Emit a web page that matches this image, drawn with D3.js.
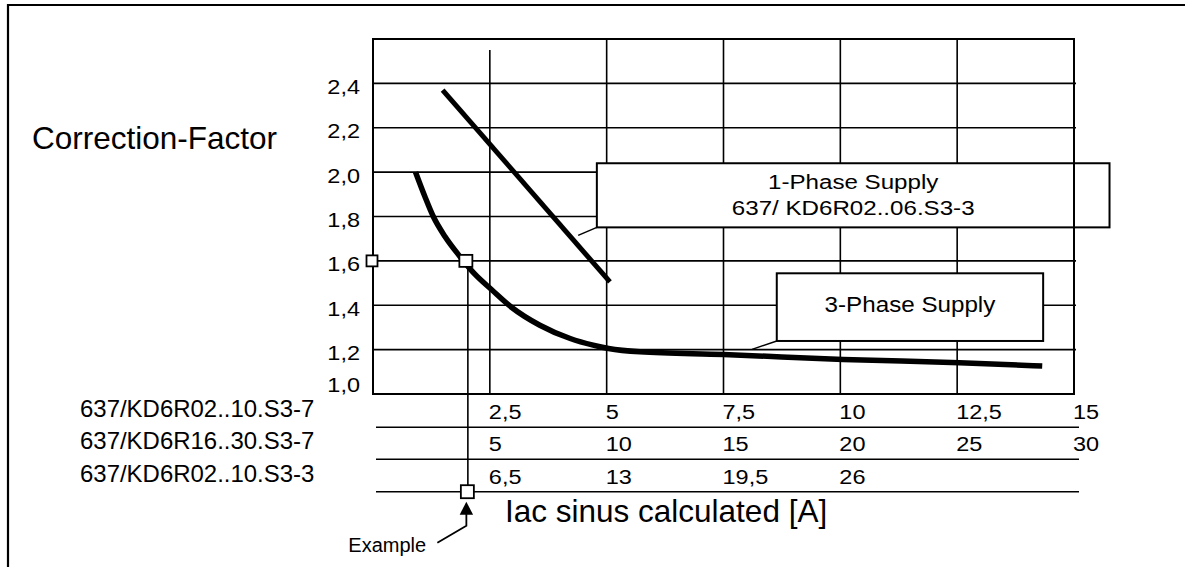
<!DOCTYPE html>
<html><head><meta charset="utf-8">
<script src="https://cdn.jsdelivr.net/npm/d3@7"></script>
<style>
html,body{margin:0;padding:0;background:#fff;}
svg{display:block;}
text{font-family:"Liberation Sans",Arial,Helvetica,sans-serif;fill:#000;}
</style>
</head><body>
<svg id="chart" width="1185" height="567"></svg>
<script>
// ---------------- data ----------------
const yTicks = [1.0, 1.2, 1.4, 1.6, 1.8, 2.0, 2.2, 2.4];
const yTickLabels = ["1,0", "1,2", "1,4", "1,6", "1,8", "2,0", "2,2", "2,4"];
const gridX = [2.5, 5, 7.5, 10, 12.5];

const rowNames = ["637/KD6R02..10.S3-7", "637/KD6R16..30.S3-7", "637/KD6R02..10.S3-3"];
const rowMax = [15, 30, 39];
const row1Ticks = [2.5, 5, 7.5, 10, 12.5, 15];
const row1Labels = ["2,5", "5", "7,5", "10", "12,5", "15"];
const row2Ticks = [5, 10, 15, 20, 25, 30];
const row2Labels = ["5", "10", "15", "20", "25", "30"];
const row3Ticks = [6.5, 13, 19.5, 26];
const row3Labels = ["6,5", "13", "19,5", "26"];

// x in units of the first scale row (637/KD6R02..10.S3-7), y = correction factor
const onePhase = [[1.49, 2.37], [5.07, 1.505]];
const threePhase = [
  [0.91, 2.00], [1.11, 1.89], [1.29, 1.80], [1.54, 1.71], [1.86, 1.62],
  [2.18, 1.54], [2.54, 1.47], [2.97, 1.39], [3.57, 1.31], [4.22, 1.25],
  [4.71, 1.22], [5.04, 1.205], [5.71, 1.19], [7.5, 1.178], [10.06, 1.156],
  [12.55, 1.141], [14.32, 1.126]
];
const exampleX = 2.03, exampleY = 1.6;

const legend1Lines = ["1-Phase Supply", "637/ KD6R02..06.S3-3"];
const legend2Lines = ["3-Phase Supply"];
const yTitle = "Correction-Factor";
const xTitle = "Iac sinus calculated [A]";
const exampleText = "Example";

// ---------------- layout ----------------
const svg = d3.select("#chart");
const x = d3.scaleLinear().domain([0, 15]).range([373, 1074]);
const y = d3.scaleLinear().domain([1, 2.6]).range([394, 39]);
const rowLineY = [427.3, 459.3, 491.7];
const rowScales = rowMax.map(m => d3.scaleLinear().domain([0, m]).range(x.range()));
const rowTicks = [row1Ticks, row2Ticks, row3Ticks];
const rowLabels = [row1Labels, row2Labels, row3Labels];

function label(sel, px, py, s, size, anchor, sx) {
  return sel.append("text")
    .attr("transform", `translate(${px},${py}) scale(${sx},1)`)
    .attr("text-anchor", anchor)
    .attr("font-size", size)
    .text(s);
}

// outer border (left + top)
svg.append("path").attr("d", "M8,567 L8,5 L1185,5")
  .attr("fill", "none").attr("stroke", "#000").attr("stroke-width", 2.2);

// horizontal grid
svg.append("g").selectAll("line").data(yTicks.filter(v => v > 1)).join("line")
  .attr("x1", x(0)).attr("x2", x(15) + 2)
  .attr("y1", d => y(d)).attr("y2", d => y(d))
  .attr("stroke", "#000").attr("stroke-width", 1.6);

// vertical grid
svg.append("g").selectAll("line").data(gridX).join("line")
  .attr("x1", d => x(d)).attr("x2", d => x(d))
  .attr("y1", d => d === 2.5 ? y(2.55) : y(2.6)).attr("y2", y(1))
  .attr("stroke", "#000").attr("stroke-width", 1.6);

// example vertical line
svg.append("line")
  .attr("x1", x(exampleX)).attr("x2", x(exampleX))
  .attr("y1", y(exampleY)).attr("y2", rowLineY[2])
  .attr("stroke", "#000").attr("stroke-width", 1.6);

// table lines
svg.append("g").selectAll("line").data(rowLineY).join("line")
  .attr("x1", 376).attr("x2", 1079)
  .attr("y1", d => d).attr("y2", d => d)
  .attr("stroke", "#000").attr("stroke-width", 1.6);

// curves
const line = d3.line().x(d => x(d[0])).y(d => y(d[1]));
svg.append("path").datum(onePhase).attr("d", line)
  .attr("fill", "none").attr("stroke", "#000").attr("stroke-width", 5);
svg.append("path").datum(threePhase).attr("d", line.curve(d3.curveMonotoneX))
  .attr("fill", "none").attr("stroke", "#000").attr("stroke-width", 5.5);

// legend boxes
function legendBox(x0, x1, y0, y1, lines, size, sx, baselines, cx, cy) {
  svg.append("line").attr("x1", x(cx)).attr("y1", y(cy)).attr("x2", x(x0)).attr("y2", y(y1))
    .attr("stroke", "#000").attr("stroke-width", 1.5);
  svg.append("rect").attr("x", x(x0)).attr("y", y(y0))
    .attr("width", x(x1) - x(x0)).attr("height", y(y1) - y(y0))
    .attr("fill", "#fff").attr("stroke", "#000").attr("stroke-width", 2);
  const mid = (x(x0) + x(x1)) / 2;
  lines.forEach((t, i) => label(svg, mid, y(y0) + baselines[i], t, size, "middle", sx));
}
legendBox(4.79, 15.76, 2.04, 1.751, legend1Lines, 21, 1.15, [26, 51.5], 4.39, 1.715);
legendBox(8.64, 14.34, 1.544, 1.239, legend2Lines, 22, 1.1, [38.5], 8.11, 1.201);

// plot frame
svg.append("rect").attr("x", x(0)).attr("y", y(2.6))
  .attr("width", x(15) - x(0)).attr("height", y(1) - y(2.6))
  .attr("fill", "none").attr("stroke", "#000").attr("stroke-width", 2);

// markers
function marker(px, py, w, h) {
  svg.append("rect").attr("x", px - w / 2).attr("y", py - h / 2).attr("width", w).attr("height", h)
    .attr("fill", "#fff").attr("stroke", "#000").attr("stroke-width", 1.8);
}
marker(x(0) - 1, y(exampleY), 11, 11);
marker(x(exampleX) - 2, y(exampleY), 13, 12);
marker(x(exampleX) - 0.5, rowLineY[2], 13, 13);

// y tick labels
yTicks.forEach((v, i) => {
  const by = Math.min(y(v) + 10.5, y(1) - 2.3);
  label(svg, 360, by, yTickLabels[i], 21, "end", 1.12);
});

// row names and row tick labels
rowNames.forEach((n, i) => label(svg, 80, rowLineY[i] - 10, n, 23.5, "start", 1.02));
rowTicks.forEach((ticks, r) => {
  ticks.forEach((v, i) => {
    label(svg, rowScales[r](v) - 1, rowLineY[r] - 8, rowLabels[r][i], 21, "start", 1.12);
  });
});

// titles
label(svg, 32, 149, yTitle, 31.5, "start", 1);
label(svg, 505, 522, xTitle, 31.5, "start", 1);

// example arrow
const ex = x(exampleX) - 1.5;
const tipY = rowLineY[2] + 10;
svg.append("path")
  .attr("d", `M${ex},${tipY} L${ex - 6.7},${tipY + 13} L${ex + 6.7},${tipY + 13} Z`)
  .attr("fill", "#000");
svg.append("path")
  .attr("d", `M${ex},${tipY + 12} L${ex},${tipY + 24} L${ex - 29},${tipY + 41}`)
  .attr("fill", "none").attr("stroke", "#000").attr("stroke-width", 1.8);
label(svg, ex - 118, 552, exampleText, 20, "start", 1);
</script>
</body></html>
